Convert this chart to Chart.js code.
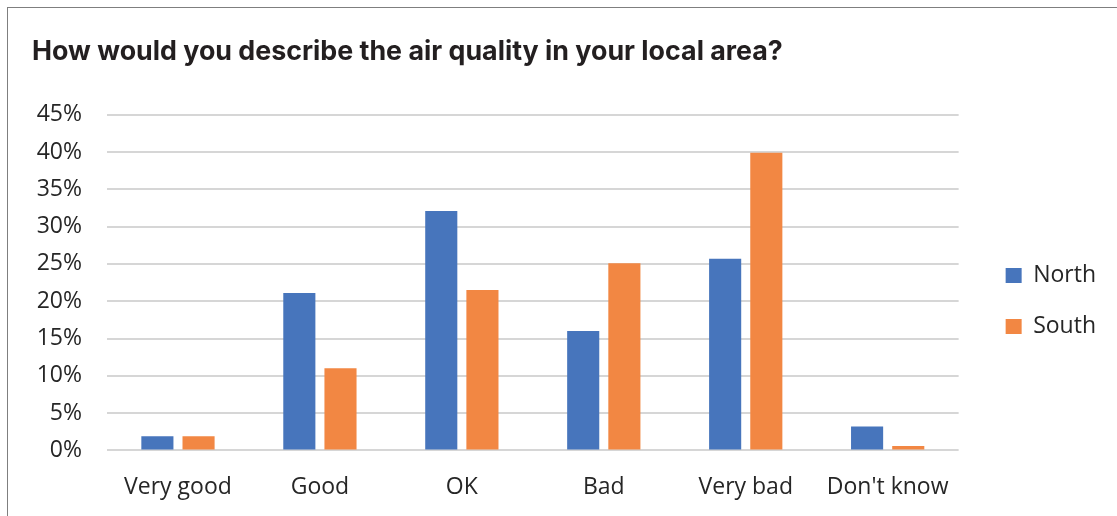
<!DOCTYPE html>
<html lang="en">
<head>
    <meta charset="UTF-8">
    <title>Air quality</title>
    <script src="https://cdn.jsdelivr.net/npm/chart.js"></script>
    <style>
        html, body { margin: 0; padding: 0; background: #fff; overflow: hidden; }
        .frame { position: absolute; left: 7px; top: 7px; border: 1px solid #7f7f7f; width: 1115px; height: 520px; }
        canvas { display: block; }
    </style>
</head>
<body>
    <div class="frame">
        <canvas id="myChart" width="1115" height="520"></canvas>
    </div>
    <script>
        const categories = ['Very good', 'Good', 'OK', 'Bad', 'Very bad', "Don't know"];
        const north = [1.9, 21.1, 32.1, 16.0, 25.7, 3.2];
        const south = [1.9, 11.0, 21.5, 25.1, 39.9, 0.6];
        const seriesNames = ['North', 'South'];
        const yTicks = [0, 5, 10, 15, 20, 25, 30, 35, 40, 45];

        const textColor = '#262626';
        const tickFont = { family: '"Open Sans", sans-serif', size: 23 };

        const ctx = document.getElementById('myChart');
        const myChart = new Chart(ctx, {
            type: 'bar',
            data: {
                labels: categories,
                datasets: [{
                    label: seriesNames[0],
                    data: north,
                    backgroundColor: '#4775BC',
                    categoryPercentage: 0.58,
                    barPercentage: 0.78
                }, {
                    label: seriesNames[1],
                    data: south,
                    backgroundColor: '#F28743',
                    categoryPercentage: 0.58,
                    barPercentage: 0.78
                }]
            },
            options: {
                responsive: false,
                animation: false,
                layout: {
                    padding: { left: 24, top: 28, right: 17, bottom: 12 }
                },
                scales: {
                    x: {
                        grid: { display: false },
                        border: { display: false },
                        ticks: { color: textColor, font: tickFont, padding: 15, maxRotation: 0 }
                    },
                    y: {
                        min: 0,
                        max: yTicks[yTicks.length - 1],
                        afterBuildTicks: s => { s.ticks = yTicks.map(v => ({ value: v })); },
                        grid: { color: '#d6d6d6', lineWidth: 2, drawTicks: false },
                        border: { display: false },
                        ticks: {
                            color: textColor,
                            font: tickFont,
                            padding: 25,
                            callback: v => v + '%'
                        },
                        afterFit: s => { s.width = 75; }
                    },
                    // empty spacer between the plot and the legend
                    gap: {
                        position: 'right',
                        display: true,
                        grid: { display: false },
                        border: { display: false },
                        ticks: { display: false },
                        afterFit: s => { s.width = 19; }
                    }
                },
                plugins: {
                    title: {
                        display: true,
                        text: 'How would you describe the air quality in your local area?',
                        align: 'start',
                        color: '#231f20',
                        font: { family: 'Inter, sans-serif', size: 26.8, weight: 'bold', lineHeight: 1.2 },
                        padding: { top: 0, bottom: 46.6 }
                    },
                    legend: {
                        position: 'right',
                        title: { display: true, text: ' ', font: { size: 20 }, padding: { top: 6, bottom: 20 } },
                        labels: {
                            color: textColor,
                            font: tickFont,
                            boxWidth: 16,
                            boxHeight: 15,
                            padding: 28
                        }
                    },
                    tooltip: { enabled: false }
                }
            }
        });
    </script>
</body>
</html>
